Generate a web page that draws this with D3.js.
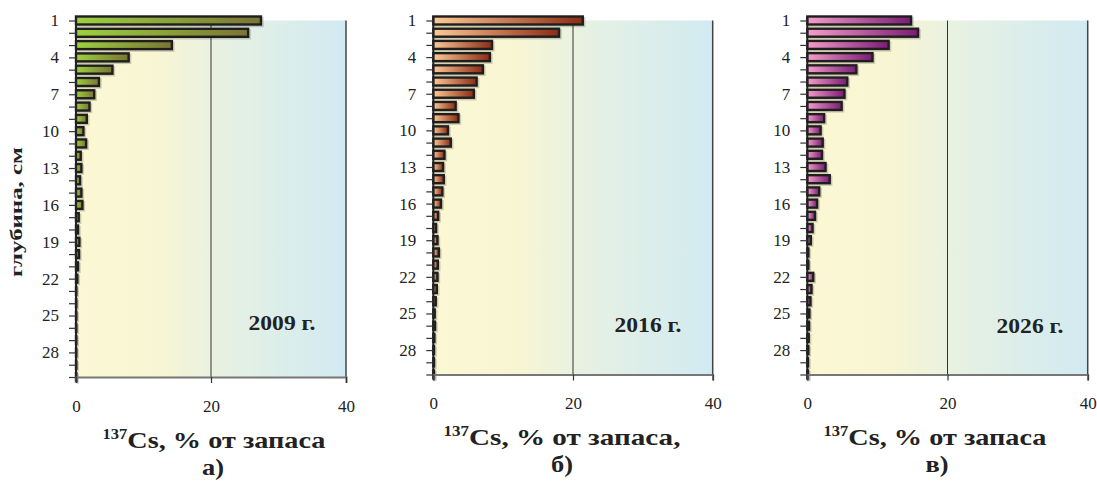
<!DOCTYPE html>
<html>
<head>
<meta charset="utf-8">
<script src="https://cdn.jsdelivr.net/npm/d3@7/dist/d3.min.js"></script>
<style>
  html, body { margin: 0; padding: 0; background: #fff; }
  svg { display: block; }
  text { font-family: "Liberation Serif", "Times New Roman", serif; fill: #222; }
</style>
</head>
<body>
<svg id="chart" width="1097" height="482"></svg>
<script>
// Depth layers, cm
const depths = [1, 2, 3, 4, 5, 6, 7, 8, 9, 10, 11, 12, 13, 14, 15,
                16, 17, 18, 19, 20, 21, 22, 23, 24, 25, 26, 27, 28, 29, 30];
const depthLabels = [1, 4, 7, 10, 13, 16, 19, 22, 25, 28];
const xTicks = [0, 20, 40];

// 137Cs share of the total inventory in each layer, %
const values2009 = [27.4, 25.5, 14.2, 7.8, 5.4, 3.4, 2.7, 2.0, 1.6, 1.1,
                    1.5, 0.7, 0.8, 0.6, 0.8, 0.95, 0.4, 0.3, 0.5, 0.45,
                    0.3, 0.2, 0.05, 0.05, 0.05, 0.05, 0.05, 0.05, 0.05, 0.05];
const values2016 = [21.4, 18.0, 8.4, 8.1, 7.1, 6.2, 5.8, 3.2, 3.6, 2.1,
                    2.5, 1.6, 1.4, 1.5, 1.3, 1.1, 0.7, 0.4, 0.6, 0.8,
                    0.65, 0.6, 0.5, 0.35, 0.2, 0.25, 0.15, 0.1, 0.1, 0.1];
const values2026 = [14.8, 15.8, 11.6, 9.3, 7.0, 5.7, 5.3, 4.9, 2.4, 1.9,
                    2.2, 2.1, 2.6, 3.2, 1.7, 1.4, 1.1, 0.75, 0.5, 0.15,
                    0.15, 0.85, 0.6, 0.45, 0.3, 0.25, 0.2, 0.15, 0.1, 0.1];

const years = ["2009 г.", "2016 г.", "2026 г."];
const letters = ["а)", "б)", "в)"];
const axisTitles = ["Cs, % от запаса", "Cs, % от запаса,", "Cs, % от запаса"];

// Panel layout and colours
const panels = [
  { values: values2009, x0: 76, x1: 346, top: 20.5, bottom: 377,
    c0: "#9dd13f", c1: "#7a7434",
    yearX: 282, yearY: 330, yearW: 67,
    titleX: 214, titleY: 448, titleW: 223,
    letterX: 213, letterY: 475, tickY: 412 },
  { values: values2016, x0: 433.3, x1: 712.7, top: 20.5, bottom: 374.5,
    c0: "#fdca96", c1: "#8c2b14",
    yearX: 648, yearY: 332, yearW: 67,
    titleX: 562, titleY: 445, titleW: 237,
    letterX: 562, letterY: 472, tickY: 409 },
  { values: values2026, x0: 807.3, x1: 1087.7, top: 20.5, bottom: 374.5,
    c0: "#f59dc9", c1: "#7a1c76",
    yearX: 1030, yearY: 333, yearW: 67,
    titleX: 935, titleY: 445, titleW: 223,
    letterX: 937, letterY: 472, tickY: 409 }
];

const FONT = "Liberation Serif, Times New Roman, serif";
const svg = d3.select("#chart");
const defs = svg.append("defs");

// Plot-area backdrop: pale yellow to pale blue
const bg = defs.append("linearGradient").attr("id", "bgGrad")
  .attr("x1", "0").attr("y1", "0").attr("x2", "1").attr("y2", "0");
bg.append("stop").attr("offset", "0").attr("stop-color", "#fcf8d4");
bg.append("stop").attr("offset", "0.3").attr("stop-color", "#f8f5d3");
bg.append("stop").attr("offset", "0.55").attr("stop-color", "#e6f1e3");
bg.append("stop").attr("offset", "1").attr("stop-color", "#d1eaf2");

// Text helper: centre and stretch horizontally to a given width
function fit(sel, cx, y, w, rotate) {
  const bw = sel.node().getBBox().width;
  const k = w / bw;
  sel.attr("text-anchor", "middle")
     .attr("transform", `translate(${cx},${y})` + (rotate ? " rotate(-90)" : "") + ` scale(${k},1)`);
}

panels.forEach((p, i) => {
  const g = svg.append("g");

  const x = d3.scaleLinear().domain([0, 40]).range([p.x0, p.x1]);
  const y = d3.scalePoint().domain(depths).range([p.top, p.bottom]);
  const bh = 8;

  const grad = defs.append("linearGradient").attr("id", "barGrad" + i)
    .attr("x1", "0").attr("y1", "0").attr("x2", "1").attr("y2", "0");
  grad.append("stop").attr("offset", "0").attr("stop-color", p.c0);
  grad.append("stop").attr("offset", "1").attr("stop-color", p.c1);

  // background
  g.append("rect")
    .attr("x", x(0)).attr("y", p.top)
    .attr("width", x(40) - x(0)).attr("height", p.bottom - p.top)
    .attr("fill", "url(#bgGrad)");

  // gridline at 20 and right border
  g.append("line")
    .attr("x1", x(20)).attr("x2", x(20)).attr("y1", p.top).attr("y2", p.bottom)
    .attr("stroke", "#333").attr("stroke-width", 1);
  g.append("line")
    .attr("x1", x(40)).attr("x2", x(40)).attr("y1", p.top).attr("y2", p.bottom)
    .attr("stroke", "#444").attr("stroke-width", 1.5);

  const data = depths.map((d, j) => ({ depth: d, value: p.values[j] }));

  // bar shadows
  g.append("g").selectAll("rect").data(data).join("rect")
    .attr("x", x(0) + 1.5)
    .attr("y", d => y(d.depth) - bh / 2 + 1.5)
    .attr("width", d => x(d.value) - x(0))
    .attr("height", bh)
    .attr("fill", "none")
    .attr("stroke", "#000").attr("stroke-opacity", 0.18).attr("stroke-width", 2.4);

  // bars
  g.append("g").selectAll("rect").data(data).join("rect")
    .attr("x", x(0))
    .attr("y", d => y(d.depth) - bh / 2)
    .attr("width", d => x(d.value) - x(0))
    .attr("height", bh)
    .attr("fill", `url(#barGrad${i})`)
    .attr("stroke", "#1e1e1e").attr("stroke-width", 2.4);

  // depth axis
  const ya = g.append("g").attr("transform", `translate(${x(0)},0)`)
    .call(d3.axisLeft(y).tickValues(depths)
      .tickFormat(d => depthLabels.includes(d) ? d : "")
      .tickSize(7).tickPadding(10));
  ya.attr("font-family", FONT);
  ya.select(".domain").attr("stroke", "#222").attr("stroke-width", 2)
    .attr("d", `M0,${p.top - 4}V${p.bottom}`);
  ya.selectAll(".tick line").attr("stroke", "#333").attr("stroke-width", 1.2);
  ya.selectAll(".tick text").attr("font-size", 17)
    .attr("font-family", FONT).attr("fill", "#222");

  // value axis
  const xa = g.append("g").attr("transform", `translate(0,${p.bottom})`)
    .call(d3.axisBottom(x).tickValues(xTicks).tickSizeOuter(0).tickSize(6).tickPadding(0));
  xa.attr("font-family", FONT);
  xa.select(".domain").attr("stroke", "#777").attr("stroke-width", 2);
  xa.selectAll(".tick line").attr("stroke", "#333").attr("stroke-width", 1.2);
  xa.selectAll(".tick text").attr("font-size", 17)
    .attr("font-family", FONT).attr("fill", "#222")
    .attr("dy", null).attr("y", p.tickY - p.bottom);

  // year label
  const yr = svg.append("text").attr("font-family", FONT)
    .attr("font-size", 20).attr("font-weight", "bold").text(years[i]);
  fit(yr, p.yearX, p.yearY, p.yearW);

  // axis title with superscript isotope number
  const t = svg.append("text").attr("font-family", FONT).attr("font-weight", "bold");
  t.append("tspan").attr("font-size", 14).attr("dy", -9).text("137");
  t.append("tspan").attr("font-size", 24).attr("dy", 9).text(axisTitles[i]);
  fit(t, p.titleX, p.titleY, p.titleW);

  const l = svg.append("text").attr("font-family", FONT)
    .attr("font-size", 24).attr("font-weight", "bold").text(letters[i]);
  fit(l, p.letterX, p.letterY, l.node().getBBox().width * 1.1);
});

// depth axis title
const yt = svg.append("text").attr("font-family", FONT)
  .attr("font-size", 16).attr("font-weight", "bold").text("глубина, см");
fit(yt, 22, 212, 130, true);
</script>
</body>
</html>
